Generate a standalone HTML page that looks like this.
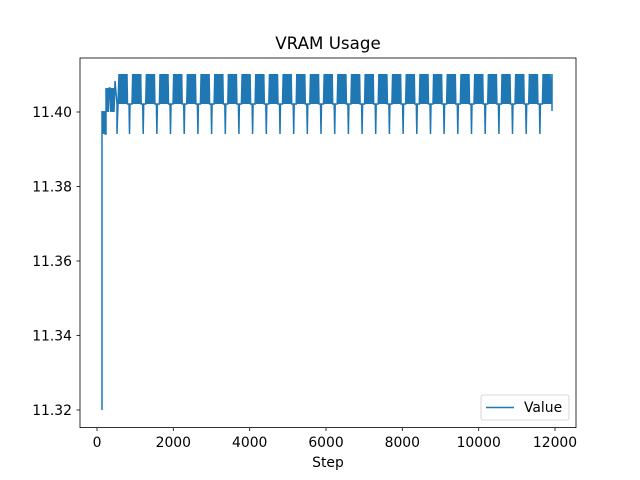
<!DOCTYPE html><html><head><style>body{margin:0;background:#fff}svg{display:block}text{font-family:"DejaVu Sans","Liberation Sans",sans-serif;fill:#000}</style></head><body>
<svg id="s" width="640" height="480" xmlns="http://www.w3.org/2000/svg">
<rect width="640" height="480" fill="#fff"/>
<path id="p" fill="none" stroke="#1f77b4" stroke-width="1.5" stroke-linejoin="miter"/>
<rect x="80" y="58" width="496" height="369.6" fill="none" stroke="#000" stroke-width="0.8"/>
<g stroke="#000" stroke-width="0.8">
<line x1="97" y1="427.6" x2="97" y2="431"/><line x1="173.3" y1="427.6" x2="173.3" y2="431"/><line x1="249.7" y1="427.6" x2="249.7" y2="431"/><line x1="326" y1="427.6" x2="326" y2="431"/><line x1="402.3" y1="427.6" x2="402.3" y2="431"/><line x1="478.7" y1="427.6" x2="478.7" y2="431"/><line x1="555" y1="427.6" x2="555" y2="431"/>
<line x1="76.5" y1="112" x2="80" y2="112"/><line x1="76.5" y1="186.5" x2="80" y2="186.5"/><line x1="76.5" y1="261" x2="80" y2="261"/><line x1="76.5" y1="335.5" x2="80" y2="335.5"/><line x1="76.5" y1="410" x2="80" y2="410"/>
</g>
<g font-size="13.9" text-anchor="middle">
<text x="97" y="447">0</text><text x="173.3" y="447">2000</text><text x="249.7" y="447">4000</text><text x="326" y="447">6000</text><text x="402.3" y="447">8000</text><text x="478.7" y="447">10000</text><text x="555" y="447">12000</text>
</g>
<g font-size="13.9" text-anchor="end">
<text x="72" y="117">11.40</text><text x="72" y="191.5">11.38</text><text x="72" y="266">11.36</text><text x="72" y="340.5">11.34</text><text x="72" y="415">11.32</text>
</g>
<text x="328" y="467" font-size="13.9" text-anchor="middle">Step</text>
<text x="328" y="49" font-size="16.7" text-anchor="middle">VRAM Usage</text>
<rect x="481" y="395" width="88" height="25" rx="2" fill="#fff" stroke="#ccc" stroke-width="0.8"/>
<line x1="486" y1="407.5" x2="514" y2="407.5" stroke="#1f77b4" stroke-width="1.5"/>
<text x="524" y="412" font-size="13.9">Value</text>
</svg>
<script>
var d="M102,410L102,111";
for(var x=102;x<106;x+=0.8){d+="L"+x.toFixed(1)+","+(Math.round(x*1.25)%2?111:134);}
for(var x=106;x<115;x+=0.8){d+="L"+x.toFixed(1)+","+(Math.round(x*1.25)%2?88:112);}
d+="L115,81L117,104L117,134L118,104";
var x0;
for(x0=119;x0<535;x0+=13.68){
 for(var i=0;i<9;i++){d+="L"+(x0+i).toFixed(1)+",74L"+(x0+i+0.5).toFixed(1)+",104";}
 d+="L"+(x0+10).toFixed(1)+",104L"+(x0+10.5).toFixed(1)+",134L"+(x0+11).toFixed(1)+",104L"+(x0+13).toFixed(1)+",104";
}
for(var x=x0;x<551;x+=1){d+="L"+x.toFixed(1)+",74L"+(x+0.5).toFixed(1)+",104";}
d+="L552,74L552,111";
document.getElementById("p").setAttribute("d",d);
</script>
</body></html>
